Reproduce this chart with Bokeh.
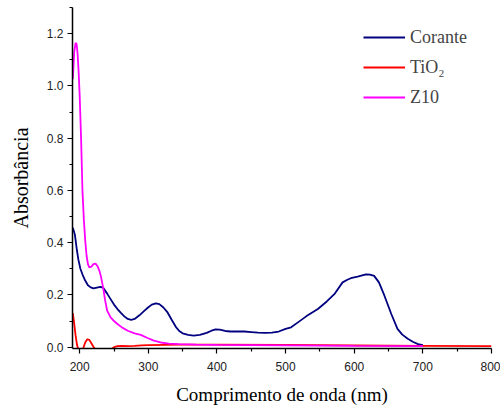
from bokeh.plotting import figure
from bokeh.models import Range1d, Legend, LegendItem, FixedTicker
from bokeh.embed import file_html
from bokeh.resources import INLINE

# ---- data ----
corante_x = [190, 193, 196, 198, 201, 204, 208, 212, 216, 220, 225, 230, 234, 240, 245, 250, 255, 260, 265, 270,
             275, 280, 287, 294, 300, 305, 311, 316, 322, 328, 334, 340, 345, 350, 358, 366, 375, 385, 392, 398,
             404, 412, 420, 430, 440, 450, 460, 470, 480, 490, 500, 508, 518, 530, 547, 560, 571, 583, 590, 595,
             605, 617, 623, 629, 636, 644, 654, 663, 670, 678, 686, 693, 700]
corante_y = [0.457, 0.43, 0.37, 0.336, 0.30, 0.279, 0.255, 0.237, 0.229, 0.225, 0.228, 0.231, 0.228, 0.205, 0.184,
             0.163, 0.146, 0.131, 0.118, 0.108, 0.105, 0.108, 0.122, 0.139, 0.153, 0.163, 0.168, 0.165, 0.152,
             0.133, 0.105, 0.078, 0.062, 0.053, 0.047, 0.044, 0.047, 0.055, 0.063, 0.068, 0.067, 0.062, 0.06,
             0.06, 0.06, 0.058, 0.056, 0.055, 0.056, 0.06, 0.07, 0.076, 0.095, 0.118, 0.146, 0.175, 0.203, 0.248,
             0.258, 0.264, 0.27, 0.279, 0.278, 0.273, 0.248, 0.197, 0.127, 0.07, 0.048, 0.032, 0.02, 0.012, 0.008]

tio2_x = [190, 192, 194, 196, 198, 202, 205, 208, 211, 214, 217, 220, 223, 235, 245, 250, 255, 262, 270, 280,
          290, 300, 350, 400, 500, 600, 700, 800]
tio2_y = [0.13, 0.09, 0.045, 0.01, -0.01, -0.02, -0.005, 0.018, 0.03, 0.028, 0.015, 0.002, -0.01, -0.02, -0.01,
          0.0, 0.004, 0.005, 0.004, 0.005, 0.007, 0.008, 0.01, 0.01, 0.009, 0.007, 0.005, 0.004]

z10_x = [190, 192, 194, 195.5, 197, 198.5, 200, 202, 204, 206, 208, 210, 212, 214, 217, 220, 223, 226, 229, 231,
         234, 237, 240, 245, 250, 255, 262, 270, 280, 289, 298, 308, 318, 330, 345, 370, 400, 500, 600, 700]
z10_y = [1.026, 1.13, 1.165, 1.16, 1.12, 1.05, 0.96, 0.80, 0.6, 0.49, 0.41, 0.35, 0.318, 0.305, 0.308, 0.318,
         0.32, 0.31, 0.29, 0.27, 0.23, 0.18, 0.14, 0.114, 0.1, 0.089, 0.075, 0.063, 0.053, 0.047, 0.036, 0.025,
         0.018, 0.014, 0.012, 0.01, 0.009, 0.007, 0.005, 0.004]

series_names = ["Corante", "TiO\u2082", "Z10"]
series_colors = ["#000080", "#ff0000", "#ff00ff"]

x_ticks = [200, 300, 400, 500, 600, 700, 800]
y_ticks = [0.0, 0.2, 0.4, 0.6, 0.8, 1.0, 1.2]

p = figure(width=500, height=407, output_backend="svg", toolbar_location=None,
           x_range=Range1d(189.5, 800), y_range=Range1d(-0.005, 1.3),
           min_border_left=72, min_border_right=9, min_border_top=7, min_border_bottom=58)
p.outline_line_color = None
p.grid.visible = False
p.background_fill_color = "white"

r1 = p.line(corante_x, corante_y, line_color=series_colors[0], line_width=1.8)
r2 = p.line(tio2_x, tio2_y, line_color=series_colors[1], line_width=1.8)
r3 = p.line(z10_x, z10_y, line_color=series_colors[2], line_width=1.8)

for ax in (p.xaxis[0], p.yaxis[0]):
    ax.axis_line_width = 1.5
    ax.axis_line_color = "black"
    ax.major_tick_line_color = "black"
    ax.minor_tick_line_color = "black"
    ax.major_tick_line_width = 1.2
    ax.minor_tick_line_width = 1.2
    ax.major_tick_in = 0
    ax.major_tick_out = 5
    ax.minor_tick_in = 0
    ax.minor_tick_out = 3
    ax.major_label_text_font = "Liberation Sans"
    ax.major_label_text_font_size = "12px"
    ax.major_label_text_color = "#222222"
    ax.axis_label_text_font = "Liberation Serif"
    ax.axis_label_text_font_style = "normal"
    ax.axis_label_text_color = "black"

p.xaxis[0].ticker = FixedTicker(ticks=x_ticks, minor_ticks=[x + 50 for x in x_ticks[:-1]] + [150])
p.yaxis[0].ticker = FixedTicker(ticks=y_ticks, minor_ticks=[0.1, 0.3, 0.5, 0.7, 0.9, 1.1, 1.3])
p.yaxis[0].major_label_overrides = {t: f"{t:.1f}" for t in y_ticks}

p.xaxis[0].axis_label = "Comprimento de onda (nm)"
p.yaxis[0].axis_label = "Absorbância"
p.xaxis[0].axis_label_text_font_size = "19px"
p.yaxis[0].axis_label_text_font_size = "20px"
p.xaxis[0].major_label_standoff = 8
p.yaxis[0].major_label_standoff = 4
p.xaxis[0].axis_label_standoff = 10
p.yaxis[0].axis_label_standoff = 12

legend = Legend(items=[LegendItem(label=series_names[0], renderers=[r1]),
                       LegendItem(label=series_names[1], renderers=[r2]),
                       LegendItem(label=series_names[2], renderers=[r3])],
                location=(291, 240), padding=0, margin=0, spacing=8,
                glyph_width=42, glyph_height=22, label_height=22, label_standoff=5,
                label_text_font="Liberation Serif", label_text_font_size="18px",
                background_fill_alpha=0, border_line_color=None)
p.add_layout(legend)

open("out.html", "w").write(file_html(p, INLINE))
